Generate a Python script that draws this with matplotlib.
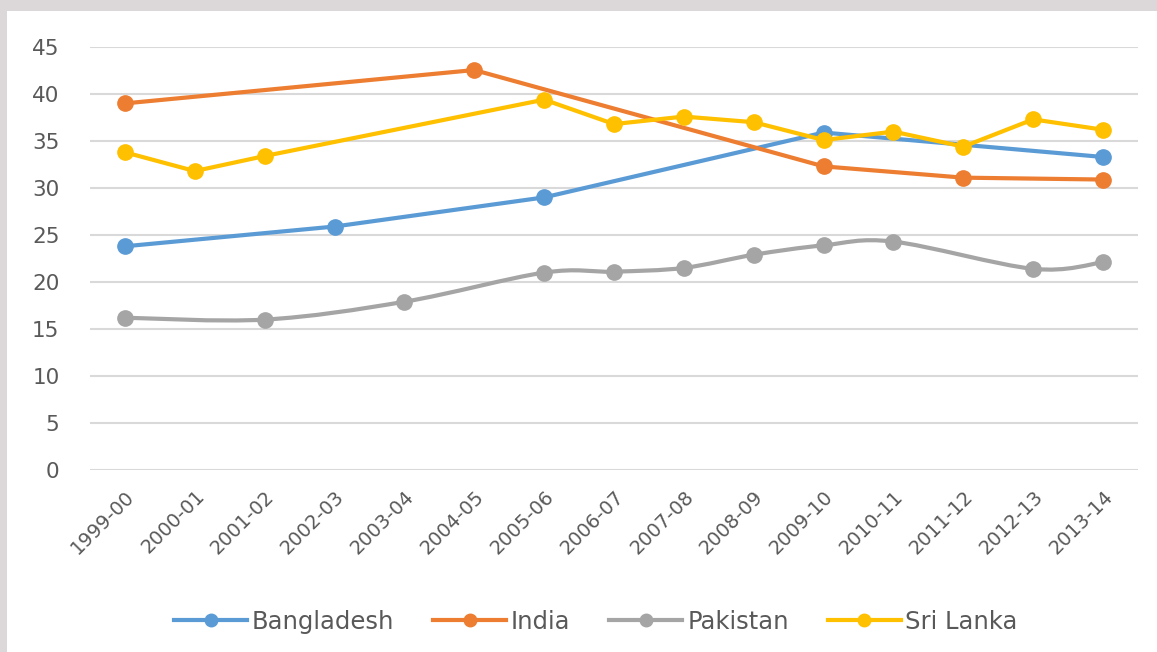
import numpy as np
import matplotlib
matplotlib.use("Agg")
import matplotlib.pyplot as plt
from matplotlib.path import Path
from matplotlib.patches import PathPatch, Rectangle
from matplotlib.lines import Line2D

plt.rcParams['font.family'] = ['DejaVu Sans']

years = ["1999-00", "2000-01", "2001-02", "2002-03", "2003-04", "2004-05", "2005-06",
         "2006-07", "2007-08", "2008-09", "2009-10", "2010-11", "2011-12", "2012-13", "2013-14"]
nan = np.nan
bangladesh = [23.8, nan, nan, 25.9, nan, nan, 29.0, nan, nan, nan, 35.9, nan, nan, nan, 33.3]
india = [39.0, nan, nan, nan, nan, 42.55, nan, nan, nan, nan, 32.3, nan, 31.1, nan, 30.9]
pakistan = [16.2, nan, 16.0, nan, 17.9, nan, 21.0, 21.1, 21.5, 22.9, 23.9, 24.3, nan, 21.4, 22.1]
srilanka = [33.8, 31.8, 33.4, nan, nan, nan, 39.4, 36.8, 37.6, 37.0, 35.1, 36.0, 34.4, 37.3, 36.2]

series = ["Bangladesh", "India", "Pakistan", "Sri Lanka"]
colors = ["#5B9BD5", "#ED7D31", "#A5A5A5", "#FFC000"]
smooth = [False, False, True, False]
data = [bangladesh, india, pakistan, srilanka]

fig = plt.figure(figsize=(11.57, 6.52), dpi=100)
fig.patch.set_facecolor("#DCD8DA")
bg = Rectangle((7/1157, 0), 1, 1 - 11/652, transform=fig.transFigure,
               facecolor="white", edgecolor="none", zorder=-10)
fig.add_artist(bg)

ax = fig.add_axes([90/1157, 1 - 470/652, (1138 - 90)/1157, (470 - 47)/652])
ax.set_zorder(1)
ax.set_facecolor("none")
ax.set_xlim(-0.5, len(years) - 0.5)
ax.set_ylim(0, 45)
ax.set_yticks(range(0, 46, 5))
ax.set_xticks(range(len(years)))
ax.set_xticklabels(years, rotation=45, ha="right", va="top", rotation_mode="anchor")
ax.tick_params(axis="x", length=0, pad=12, labelsize=14, labelcolor="#595959")
ax.tick_params(axis="y", length=0, pad=22, labelsize=15.5, labelcolor="#595959")
for s in ax.spines.values():
    s.set_visible(False)
ax.grid(axis="y", color="#D9D9D9", linewidth=1.5)
ax.set_axisbelow(True)

def bezier_path(xs, ys):
    pts = np.column_stack([xs, ys]).astype(float)
    n = len(pts)
    verts = [pts[0]]
    codes = [Path.MOVETO]
    for i in range(n - 1):
        p0 = pts[i - 1] if i > 0 else pts[i]
        p1 = pts[i]
        p2 = pts[i + 1]
        p3 = pts[i + 2] if i + 2 < n else pts[i + 1]
        c1 = p1 + (p2 - p0) / 6.0
        c2 = p2 - (p3 - p1) / 6.0
        verts += [c1, c2, p2]
        codes += [Path.CURVE4] * 3
    return Path(verts, codes)

handles = []
for name, vals, col, sm in zip(series, data, colors, smooth):
    v = np.array(vals, dtype=float)
    x = np.arange(len(years))
    m = ~np.isnan(v)
    xs, ys = x[m], v[m]
    if sm:
        patch = PathPatch(bezier_path(xs, ys), facecolor="none", edgecolor=col,
                          linewidth=3, capstyle="round", joinstyle="round", zorder=3)
        ax.add_patch(patch)
        ax.plot(xs, ys, linestyle="none", marker="o", markersize=11, color=col, zorder=4)
    else:
        ax.plot(xs, ys, color=col, linewidth=3, marker="o", markersize=11,
                solid_capstyle="round", zorder=3)
    handles.append(Line2D([], [], color=col, linewidth=3, marker="o", markersize=9))

fig.legend(handles, series, loc="center", bbox_to_anchor=(596/1157, 1 - 622/652), ncol=4,
           frameon=False, fontsize=17.5, labelcolor="#595959", handlelength=3.0,
           handletextpad=0.2, columnspacing=1.6)

fig.savefig("out.png", dpi=100, facecolor=fig.get_facecolor())
